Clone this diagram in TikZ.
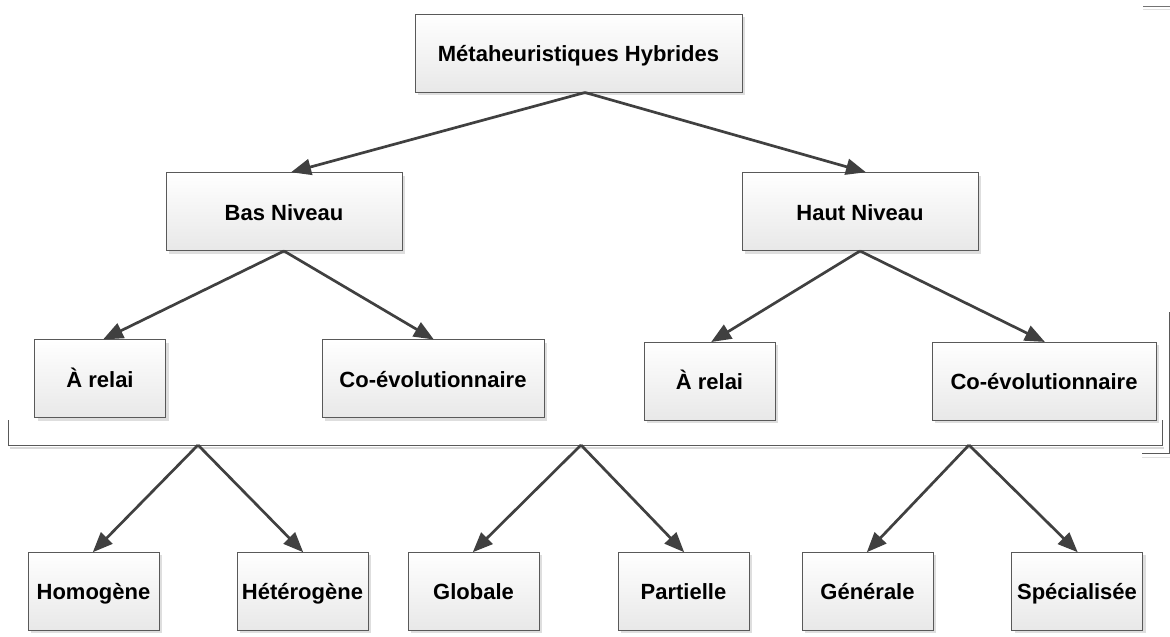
\documentclass[tikz,border=0pt]{standalone}
\usepackage{fontspec}
\setmainfont{Liberation Sans}
\usetikzlibrary{arrows.meta,shadows}
\begin{document}
\begin{tikzpicture}[x=1pt,y=-1pt,
  box/.style={draw=black!65, line width=1pt, top color=white, bottom color=black!9,
    minimum height=78pt, inner sep=0pt, text height=19pt, text depth=2pt,
    font=\fontsize{22}{26}\selectfont\bfseries,
    drop shadow={shadow xshift=3pt, shadow yshift=-3pt, fill=black!16, opacity=0.8}},
  link/.style={draw=black!75, line width=2.7pt,
    -{Triangle[length=20pt,width=16pt]}, shorten >=-1pt},
  frameline/.style={draw=black!65, line width=1pt}]
\useasboundingbox (0,0) rectangle (1170,637);

% level 1
\node[box, minimum width=327pt] (top) at (578.5,53) {Métaheuristiques Hybrides};

% level 2
\node[box, minimum width=236pt] (bas)  at (284,211.5) {Bas Niveau};
\node[box, minimum width=236pt] (haut) at (860,211.5) {Haut Niveau};

% level 3
\node[box, minimum width=131pt] (ar1) at (100,378.5)   {À relai};
\node[box, minimum width=222pt] (co1) at (433,378.5)   {Co-évolutionnaire};
\node[box, minimum width=131pt] (ar2) at (709.5,381)   {À relai};
\node[box, minimum width=224pt] (co2) at (1044,381)    {Co-évolutionnaire};

% grouping bracket
\draw[black!15, line width=1.5pt] (10,448) -- (1164,448);
\draw[frameline] (8,420) -- (8,445) -- (1162,445) -- (1162,420);
\draw[frameline] (1142,453) -- (1169,453) -- (1169,312);
\draw[black!12, line width=1pt] (1142,457) -- (1170,457);
\draw[black!55, line width=1pt] (1143,6) -- (1170,6);
\draw[black!12, line width=1pt] (1143,9) -- (1170,9);
\coordinate (g1) at (198,445);
\coordinate (g2) at (581,445);
\coordinate (g3) at (969,445);

% level 4
\node[box, minimum width=131pt] (hom) at (93.5,591)  {Homogène};
\node[box, minimum width=131pt] (het) at (302.5,591) {Hétérogène};
\node[box, minimum width=131pt] (glo) at (473.5,591) {Globale};
\node[box, minimum width=131pt] (par) at (683.5,591) {Partielle};
\node[box, minimum width=131pt] (gen) at (867.5,591) {Générale};
\node[box, minimum width=131pt] (spe) at (1077,591)  {Spécialisée};

% connectors
\draw[link] ([xshift=6.5pt]top.south) -- ([xshift=8pt]bas.north);
\draw[link] ([xshift=6.5pt]top.south) -- ([xshift=5pt]haut.north);
\draw[link] (bas.south) -- ([xshift=4pt]ar1.north);
\draw[link] (bas.south) -- (co1.north);
\draw[link] (haut.south) -- ([xshift=2.5pt]ar2.north);
\draw[link] (haut.south) -- (co2.north);
\draw[link] (g1) -- (hom.north);
\draw[link] (g1) -- (het.north);
\draw[link] (g2) -- (glo.north);
\draw[link] (g2) -- (par.north);
\draw[link] (g3) -- (gen.north);
\draw[link] (g3) -- (spe.north);
\end{tikzpicture}
\end{document}
